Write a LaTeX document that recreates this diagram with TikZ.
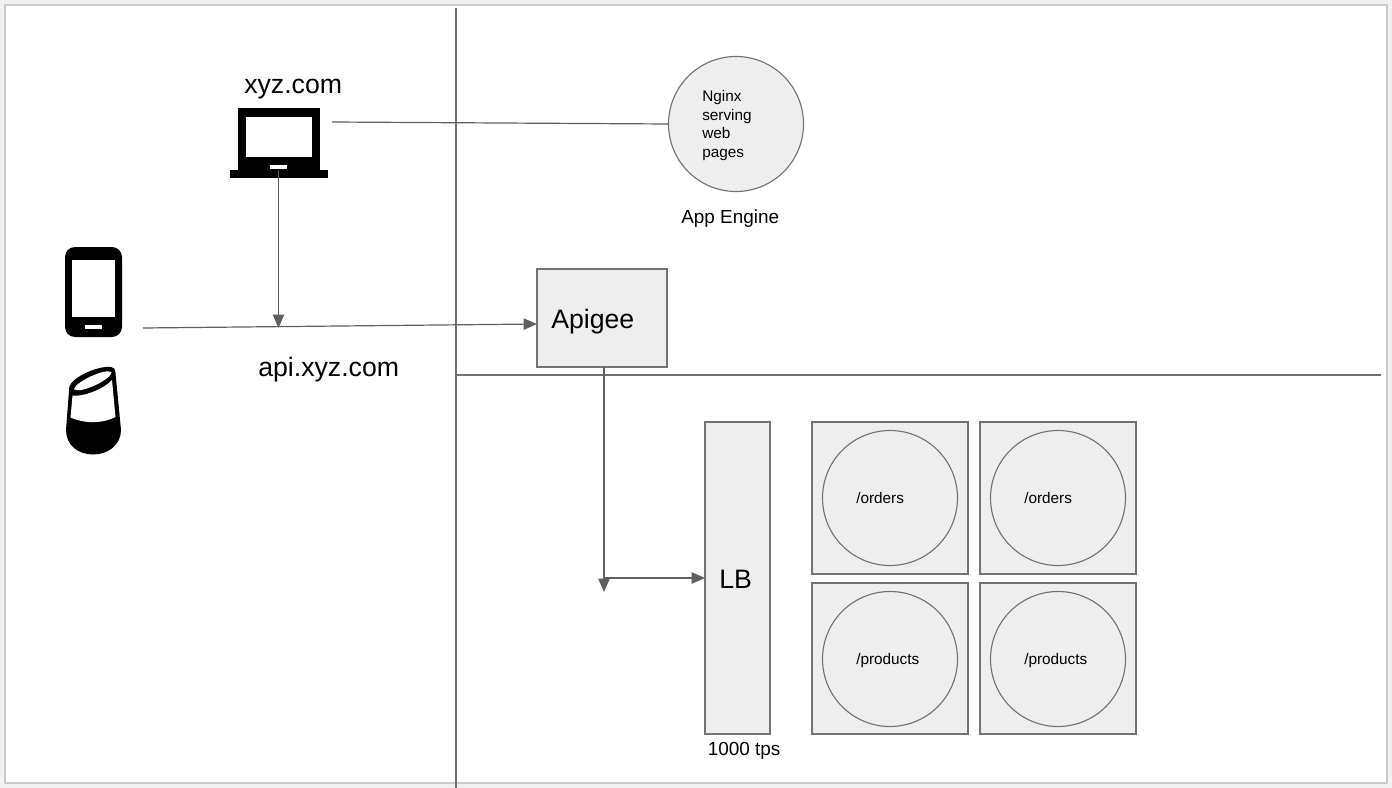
\documentclass[tikz,border=0pt]{standalone}
\usepackage{fontspec}
\setmainfont{Liberation Sans}
\usetikzlibrary{arrows.meta,calc}
\definecolor{boxfill}{HTML}{EEEEEE}
\definecolor{boxline}{HTML}{737373}
\definecolor{wire}{HTML}{5F5F5F}
\definecolor{rule}{HTML}{707070}
\definecolor{pageout}{HTML}{F1F1F1}
\definecolor{pageedge}{HTML}{CCCCCC}
\tikzset{
  boxnode/.style={draw=boxline,fill=boxfill,line width=.85pt,inner sep=0pt,outer sep=0pt,rectangle},
  circnode/.style={draw=boxline,fill=boxfill,line width=.85pt,inner sep=0pt,outer sep=0pt,circle,minimum size=101.25pt},
  biglabel/.style={font=\fontsize{20}{24}\selectfont,anchor=base west,inner sep=0pt,text=black},
  midlabel/.style={font=\fontsize{14.2}{17}\selectfont,anchor=base west,inner sep=0pt,text=black},
  smalllabel/.style={font=\fontsize{11.5}{14}\selectfont,anchor=base west,inner sep=0pt,text=black},
  wireline/.style={draw=wire,line width=.9pt},
  wirearrow/.style={wireline,-{Triangle[length=10pt,width=8.5pt,fill=wire]}},
  divider/.style={draw=rule,line width=1pt},
}
\begin{document}
\begin{tikzpicture}[x=.75pt,y=-.75pt]
\useasboundingbox (0,0) rectangle (1392,788);
% page
\fill[pageout] (0,0) rectangle (1392,788);
\fill[pageedge] (4,4) rectangle (1388,784);
\fill[white] (6,6) rectangle (1386,782);
% dividers
\coordinate (vtop) at (456,8);
\coordinate (vbot) at (456,788);
\coordinate (hleft) at (456,375);
\coordinate (hright) at (1381,375);
\draw[divider] (vtop) -- (vbot);
\draw[divider] (hleft) -- (hright);
% laptop
\fill[black] (238,108) rectangle (320,170);
\fill[black] (230,170) rectangle (328,178);
\fill[white] (246,117) rectangle (312,157);
\fill[white] (270,165.5) rectangle (287,169.5);
\coordinate (laptopR) at (332,122);
\coordinate (laptopB) at (278.5,170);
% phone
\fill[black,rounded corners=7.5pt] (65,247) rectangle (122,337);
\fill[white] (72,260) rectangle (115,317);
\fill[white] (85,325) rectangle (102,329);
\coordinate (phoneR) at (143,328);
% smart speaker
\fill[black] (69.3,387) .. controls (72,377) and (98,365.5) .. (111,367) .. controls (114,367) and (115,369) .. (115.5,373)
  -- (121,430) .. controls (121,445) and (108,454.5) .. (93,454.5) .. controls (78,454.5) and (66,445) .. (66,430) -- cycle;
\fill[white] (72.5,395.5) .. controls (85,397) and (105,388) .. (112,380) -- (115.5,417)
  .. controls (103,423.5) and (85,424) .. (70.5,417.5) -- cycle;
\fill[white] (74,389.5) .. controls (74,383) and (104,368) .. (111.5,372)
  .. controls (113,378) and (82,394) .. (74,389.5) -- cycle;
% labels left
\node[biglabel] (lxyz) at (244,94) {xyz.com};
\node[biglabel] (lapi) at (258,376) {api.xyz.com};
% nginx
\node[circnode] (nginx) at (736,124) {};
\node[font=\fontsize{11.5}{14}\selectfont,align=left,inner sep=0pt,anchor=west] (nginxtext) at (702,125.5) {Nginx\\serving\\web\\pages};
\node[midlabel] (lapp) at (681,223.5) {App Engine};
% apigee
\node[boxnode,minimum width=97.5pt,minimum height=73.5pt] (apigee) at (602,318) {};
\node[biglabel] (lapigee) at (551,328) {Apigee};
% lb
\node[boxnode,minimum width=48.75pt,minimum height=234pt] (lb) at (737.5,578) {};
\node[biglabel] (llb) at (719,588) {LB};
\node[midlabel] (ltps) at (707.5,755) {1000 tps};
% service boxes
\node[boxnode,minimum width=117pt,minimum height=114pt] (b1) at (890,498) {};
\node[boxnode,minimum width=117pt,minimum height=114pt] (b2) at (1058,498) {};
\node[boxnode,minimum width=117pt,minimum height=113.25pt] (b3) at (890,658.5) {};
\node[boxnode,minimum width=117pt,minimum height=113.25pt] (b4) at (1058,658.5) {};
\node[circnode] (c1) at (890,498) {};
\node[circnode] (c2) at (1058,498) {};
\node[circnode] (c3) at (890,659) {};
\node[circnode] (c4) at (1058,659) {};
\node[smalllabel] (t1) at (856,503) {/orders};
\node[smalllabel] (t2) at (1024,503) {/orders};
\node[smalllabel] (t3) at (856,664) {/products};
\node[smalllabel] (t4) at (1024,664) {/products};
% connectors
\coordinate (apiin) at ($(apigee.west)+(0,6)$);
\coordinate (apiout) at (604,367);
\coordinate (downend) at (604,592);
\coordinate (joinpt) at (604,578);
\coordinate (mergept) at (278.5,328);
\draw[wireline] (laptopR) -- (nginx.west);
\draw[wirearrow] (laptopB) -- (mergept);
\draw[wirearrow] (phoneR) -- (apiin);
\draw[wirearrow] (apiout) -- (downend);
\draw[wirearrow] (joinpt) -- (lb.west);
\end{tikzpicture}
\end{document}
